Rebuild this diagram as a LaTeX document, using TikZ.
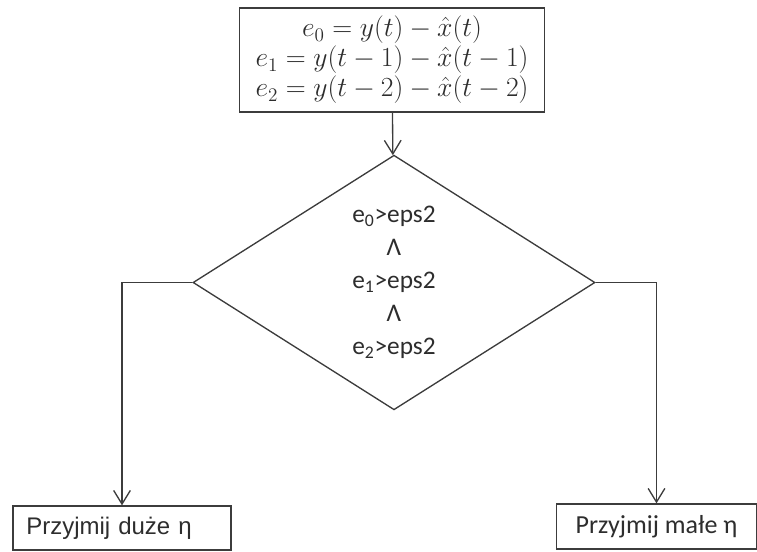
\documentclass[tikz,border=0pt]{standalone}
\usepackage{amsmath}
\usepackage{xcolor,tikz,fontspec}
\usetikzlibrary{arrows.meta,positioning,shapes.geometric}
\newfontfamily\calibri{Carlito}
\newfontfamily\arial{Liberation Sans}
\definecolor{ink}{RGB}{45,45,45}
\definecolor{edge}{RGB}{60,60,60}
\tikzset{
  arr/.style={-{Straight Barb[length=3.6mm,width=4.4mm]},line width=1pt,draw=edge},
  box/.style={draw=edge,line width=1pt,text=ink,inner sep=0pt},
  decision/.style={diamond,draw=edge,line width=1pt,text=ink,inner sep=0pt,minimum width=301.5pt,minimum height=191pt,align=center,font=\calibri\fontsize{19}{24.75}\selectfont}
}

\begin{document}
\begin{tikzpicture}[x=0.75pt,y=-0.75pt]
  \useasboundingbox (0,0) rectangle (757,551);
  \node[box,minimum width=229pt,minimum height=78pt,align=center,font=\fontsize{20.5}{22.5}\selectfont] (err) at (392,60)
    {$e_0=y(t)-\hat{x}(t)$\\ $e_1=y(t-1)-\hat{x}(t-1)$\\ $e_2=y(t-2)-\hat{x}(t-2)$};
  \node[decision] (cond) at (394,282.5)
    {e\textsubscript{0}>eps2\\ Λ\\ e\textsubscript{1}>eps2\\ Λ\\ e\textsubscript{2}>eps2};
  \node[box,minimum width=163.5pt,minimum height=33pt,inner xsep=10pt,text width=143.5pt,align=left,font=\arial\fontsize{18}{20}\selectfont] (duze) at (122,528) {Przyjmij duże η};
  \node[box,minimum width=150pt,minimum height=33.75pt,align=center,font=\calibri\fontsize{19.5}{22}\selectfont] (male) at (656.5,526.5) {Przyjmij małe η};

  \draw[arr] (err) -- (cond);
  \draw[arr] (cond.west) -| (duze);
  \draw[arr] (cond.east) -| (male);
\end{tikzpicture}
\end{document}
